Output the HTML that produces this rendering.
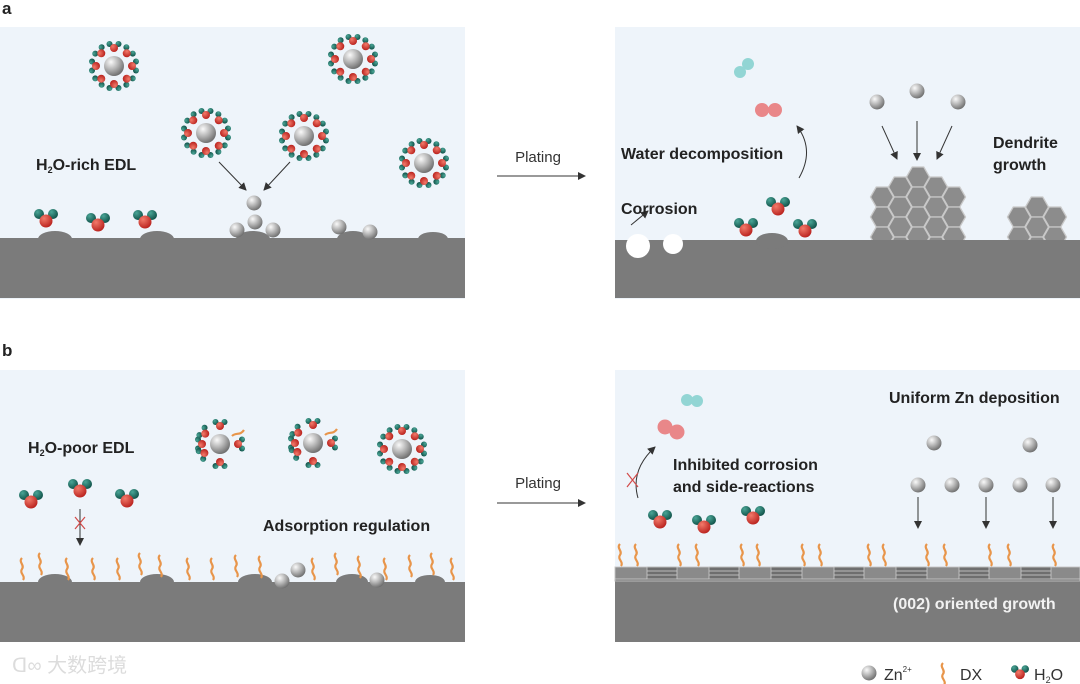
<!DOCTYPE html>
<html><head><meta charset="utf-8"><style>
html,body{margin:0;padding:0;background:#fff;}
svg{display:block;font-family:"Liberation Sans",Arial,sans-serif;}
</style></head><body>
<svg width="1080" height="684" viewBox="0 0 1080 684" xmlns="http://www.w3.org/2000/svg">
<defs>
<radialGradient id="gz" cx="0.35" cy="0.3" r="0.75"><stop offset="0" stop-color="#fafafa"/><stop offset="0.5" stop-color="#b4b4b4"/><stop offset="1" stop-color="#6a6a6a"/></radialGradient>
<radialGradient id="gr" cx="0.35" cy="0.3" r="0.75"><stop offset="0" stop-color="#f27a6a"/><stop offset="1" stop-color="#b8201c"/></radialGradient>
<radialGradient id="gt" cx="0.35" cy="0.3" r="0.75"><stop offset="0" stop-color="#4aa596"/><stop offset="1" stop-color="#0e4f46"/></radialGradient>
<g id="w"><circle cx="-7" cy="-4" r="5" fill="url(#gt)"/><circle cx="7" cy="-4" r="5" fill="url(#gt)"/><circle cx="0" cy="3" r="6.5" fill="url(#gr)"/></g>
<g id="ws"><circle cx="-4.5" cy="-3" r="3" fill="url(#gt)"/><circle cx="4.5" cy="-3" r="3" fill="url(#gt)"/><circle cx="0" cy="1" r="4" fill="url(#gr)"/></g>
<g id="sv">
<use href="#ws" transform="rotate(0) translate(0,-19)"/><use href="#ws" transform="rotate(45) translate(0,-19)"/>
<use href="#ws" transform="rotate(90) translate(0,-19)"/><use href="#ws" transform="rotate(135) translate(0,-19)"/>
<use href="#ws" transform="rotate(180) translate(0,-19)"/><use href="#ws" transform="rotate(225) translate(0,-19)"/>
<use href="#ws" transform="rotate(270) translate(0,-19)"/><use href="#ws" transform="rotate(315) translate(0,-19)"/>
<circle r="10" fill="url(#gz)"/></g>
<g id="sv2">
<use href="#ws" transform="rotate(0) translate(0,-19)"/><use href="#ws" transform="rotate(90) translate(0,-19)"/>
<use href="#ws" transform="rotate(180) translate(0,-19)"/><use href="#ws" transform="rotate(270) translate(0,-19)"/>
<use href="#ws" transform="rotate(-55) translate(0,-19)"/><use href="#ws" transform="rotate(-120) translate(0,-19)"/>
<path d="M12,-8 c4,-4 8,0 12,-6" stroke="#e8954a" stroke-width="2.2" fill="none"/>
<circle r="10" fill="url(#gz)"/></g>
<g id="zn"><circle r="7.5" fill="url(#gz)"/></g>
<path id="dx" d="M0,0 c-4,4 3,7 0,11 c-3,4 4,7 1,11" stroke="#e8954a" stroke-width="2.2" fill="none"/>
<polygon id="hx" points="-11.5,0 -5.75,-10 5.75,-10 11.5,0 5.75,10 -5.75,10" fill="#8c8c8c" stroke="#c8c8c8" stroke-width="1.3"/>
<marker id="ar" markerWidth="8" markerHeight="8" refX="7" refY="4" orient="auto" markerUnits="userSpaceOnUse"><path d="M0,0 L8,4 L0,8 z" fill="#333"/></marker>
</defs>

<text x="2" y="14" font-size="17" font-weight="bold" fill="#222">a</text>
<text x="2" y="356" font-size="17" font-weight="bold" fill="#222">b</text>

<!-- panel a left -->
<rect x="0" y="27" width="465" height="272" fill="#eef4fa"/>
<g fill="#7b7b7b">
<ellipse cx="55" cy="239" rx="17" ry="8"/><ellipse cx="157" cy="239" rx="17" ry="8"/><ellipse cx="253" cy="239" rx="17" ry="8"/><ellipse cx="353" cy="239" rx="16" ry="8"/><ellipse cx="433" cy="239" rx="15" ry="7"/>
<rect x="0" y="238" width="465" height="60"/></g>
<use href="#sv" x="114" y="66"/><use href="#sv" x="353" y="59"/><use href="#sv" x="206" y="133"/><use href="#sv" x="304" y="136"/><use href="#sv" x="424" y="163"/>
<use href="#w" x="46" y="218"/><use href="#w" x="98" y="222"/><use href="#w" x="145" y="219"/>
<use href="#zn" x="254" y="203"/><use href="#zn" x="255" y="222"/><use href="#zn" x="237" y="230"/><use href="#zn" x="273" y="230"/><use href="#zn" x="339" y="227"/><use href="#zn" x="370" y="232"/>
<line x1="219" y1="162" x2="246" y2="190" stroke="#333" stroke-width="1" marker-end="url(#ar)"/>
<line x1="290" y1="162" x2="264" y2="190" stroke="#333" stroke-width="1" marker-end="url(#ar)"/>
<text x="36" y="170" font-size="16" font-weight="bold" fill="#222">H<tspan font-size="9" dy="3">2</tspan><tspan dy="-3">O-rich EDL</tspan></text>

<!-- arrow a -->
<text x="538" y="162" font-size="15" fill="#333" text-anchor="middle">Plating</text>
<line x1="497" y1="176" x2="585" y2="176" stroke="#333" stroke-width="1" marker-end="url(#ar)"/>

<!-- panel a right -->
<rect x="615" y="27" width="465" height="272" fill="#eef4fa"/>
<rect x="615" y="240" width="465" height="58" fill="#7b7b7b"/>
<ellipse cx="772" cy="241" rx="16" ry="8" fill="#7b7b7b"/>
<circle cx="638" cy="246" r="12" fill="#fff"/><circle cx="673" cy="244" r="10" fill="#fff"/>
<line x1="631" y1="225" x2="648" y2="211" stroke="#333" stroke-width="1" marker-end="url(#ar)"/>
<text x="621" y="214" font-size="16" font-weight="bold" fill="#222">Corrosion</text>
<text x="621" y="159" font-size="16" font-weight="bold" fill="#222">Water decomposition</text>
<path d="M799,178 Q815,150 797,126" stroke="#333" stroke-width="1" fill="none" marker-end="url(#ar)"/>
<g opacity="0.7"><circle cx="762" cy="110" r="7" fill="#e85a5a"/><circle cx="775" cy="110" r="7" fill="#e85a5a"/>
<circle cx="740" cy="72" r="6" fill="#6cc9c4"/><circle cx="748" cy="64" r="6" fill="#6cc9c4"/></g>
<use href="#w" x="746" y="227"/><use href="#w" x="778" y="206"/><use href="#w" x="805" y="228"/>
<use href="#zn" x="877" y="102"/><use href="#zn" x="917" y="91"/><use href="#zn" x="958" y="102"/>
<line x1="882" y1="126" x2="897" y2="159" stroke="#333" stroke-width="1" marker-end="url(#ar)"/>
<line x1="917" y1="121" x2="917" y2="160" stroke="#333" stroke-width="1" marker-end="url(#ar)"/>
<line x1="952" y1="126" x2="937" y2="159" stroke="#333" stroke-width="1" marker-end="url(#ar)"/>
<svg x="860" y="160" width="115" height="80" overflow="hidden">
<g transform="translate(-860,-160)">
<use href="#hx" x="882" y="197"/><use href="#hx" x="882" y="217"/><use href="#hx" x="882" y="237"/>
<use href="#hx" x="900" y="187"/><use href="#hx" x="900" y="207"/><use href="#hx" x="900" y="227"/><use href="#hx" x="900" y="247"/>
<use href="#hx" x="918" y="177"/><use href="#hx" x="918" y="197"/><use href="#hx" x="918" y="217"/><use href="#hx" x="918" y="237"/>
<use href="#hx" x="936" y="187"/><use href="#hx" x="936" y="207"/><use href="#hx" x="936" y="227"/><use href="#hx" x="936" y="247"/>
<use href="#hx" x="954" y="197"/><use href="#hx" x="954" y="217"/><use href="#hx" x="954" y="237"/>
</g></svg>
<svg x="1000" y="190" width="75" height="50" overflow="hidden">
<g transform="translate(-1000,-190)">
<use href="#hx" x="1019" y="217"/><use href="#hx" x="1019" y="237"/>
<use href="#hx" x="1037" y="207"/><use href="#hx" x="1037" y="227"/><use href="#hx" x="1037" y="247"/>
<use href="#hx" x="1055" y="217"/><use href="#hx" x="1055" y="237"/>
</g></svg>
<text x="993" y="148" font-size="16" font-weight="bold" fill="#222">Dendrite</text>
<text x="993" y="170" font-size="16" font-weight="bold" fill="#222">growth</text>

<!-- panel b left -->
<rect x="0" y="370" width="465" height="272" fill="#eef4fa"/>
<g fill="#7b7b7b">
<ellipse cx="55" cy="582" rx="17" ry="8"/><ellipse cx="157" cy="582" rx="17" ry="8"/><ellipse cx="255" cy="582" rx="17" ry="8"/><ellipse cx="352" cy="582" rx="16" ry="8"/><ellipse cx="430" cy="582" rx="15" ry="7"/>
<rect x="0" y="582" width="465" height="60"/></g>
<g>
<use href="#dx" x="22" y="558"/><use href="#dx" x="40" y="553"/><use href="#dx" x="67" y="558"/><use href="#dx" x="93" y="558"/><use href="#dx" x="118" y="558"/><use href="#dx" x="140" y="553"/><use href="#dx" x="160" y="555"/><use href="#dx" x="188" y="558"/><use href="#dx" x="212" y="558"/><use href="#dx" x="236" y="555"/><use href="#dx" x="260" y="556"/><use href="#dx" x="313" y="558"/><use href="#dx" x="336" y="553"/><use href="#dx" x="359" y="556"/><use href="#dx" x="385" y="558"/><use href="#dx" x="410" y="555"/><use href="#dx" x="432" y="553"/><use href="#dx" x="452" y="558"/>
</g>
<use href="#zn" x="298" y="570"/><use href="#zn" x="282" y="581"/><use href="#zn" x="377" y="580"/>
<use href="#sv2" x="220" y="444"/><use href="#sv2" x="313" y="443"/><use href="#sv" x="402" y="449"/>
<use href="#w" x="31" y="499"/><use href="#w" x="80" y="488"/><use href="#w" x="127" y="498"/>
<line x1="80" y1="509" x2="80" y2="545" stroke="#333" stroke-width="1" marker-end="url(#ar)"/>
<path d="M75,517 L85,529 M85,517 L75,529" stroke="#d24a48" stroke-width="1.2"/>
<text x="28" y="453" font-size="16" font-weight="bold" fill="#222">H<tspan font-size="9" dy="3">2</tspan><tspan dy="-3">O-poor EDL</tspan></text>
<text x="263" y="531" font-size="16" font-weight="bold" fill="#222">Adsorption regulation</text>

<!-- arrow b -->
<text x="538" y="488" font-size="15" fill="#333" text-anchor="middle">Plating</text>
<line x1="497" y1="503" x2="585" y2="503" stroke="#333" stroke-width="1" marker-end="url(#ar)"/>

<!-- panel b right -->
<rect x="615" y="370" width="465" height="272" fill="#eef4fa"/>
<rect x="615" y="581" width="465" height="61" fill="#7b7b7b"/>
<g stroke="#bbb" stroke-width="1">
<rect x="615" y="567" width="465" height="14" fill="#6e6e6e"/>
<line x1="615" y1="571" x2="1080" y2="571"/><line x1="615" y1="575" x2="1080" y2="575"/><line x1="615" y1="579" x2="1080" y2="579"/>
</g>
<g fill="#8a8a8a" stroke="#ccc" stroke-width="0.8">
<rect x="615" y="567" width="32" height="12"/><rect x="677" y="567" width="32" height="12"/><rect x="739" y="567" width="32" height="12"/><rect x="802" y="567" width="32" height="12"/><rect x="864" y="567" width="32" height="12"/><rect x="927" y="567" width="32" height="12"/><rect x="989" y="567" width="32" height="12"/><rect x="1051" y="567" width="29" height="12"/>
</g>
<g>
<use href="#dx" x="620" y="544"/><use href="#dx" x="636" y="544"/><use href="#dx" x="679" y="544"/><use href="#dx" x="697" y="544"/><use href="#dx" x="742" y="544"/><use href="#dx" x="758" y="544"/><use href="#dx" x="803" y="544"/><use href="#dx" x="820" y="544"/><use href="#dx" x="869" y="544"/><use href="#dx" x="884" y="544"/><use href="#dx" x="927" y="544"/><use href="#dx" x="945" y="544"/><use href="#dx" x="990" y="544"/><use href="#dx" x="1009" y="544"/><use href="#dx" x="1054" y="544"/>
</g>
<use href="#w" x="660" y="519"/><use href="#w" x="704" y="524"/><use href="#w" x="753" y="515"/>
<g opacity="0.7"><circle cx="665" cy="427" r="7.5" fill="#e85a5a"/><circle cx="677" cy="432" r="7.5" fill="#e85a5a"/>
<circle cx="687" cy="400" r="6" fill="#6cc9c4"/><circle cx="697" cy="401" r="6" fill="#6cc9c4"/></g>
<path d="M638,498 Q630,470 655,447" stroke="#333" stroke-width="1" fill="none" marker-end="url(#ar)"/>
<path d="M627,473 L638,487 M638,473 L627,487" stroke="#d24a48" stroke-width="1.2"/>
<text x="673" y="470" font-size="16" font-weight="bold" fill="#222">Inhibited corrosion</text>
<text x="673" y="492" font-size="16" font-weight="bold" fill="#222">and side-reactions</text>
<text x="889" y="403" font-size="16" font-weight="bold" fill="#222">Uniform Zn deposition</text>
<use href="#zn" x="934" y="443"/><use href="#zn" x="1030" y="445"/>
<use href="#zn" x="918" y="485"/><use href="#zn" x="952" y="485"/><use href="#zn" x="986" y="485"/><use href="#zn" x="1020" y="485"/><use href="#zn" x="1053" y="485"/>
<line x1="918" y1="497" x2="918" y2="528" stroke="#333" stroke-width="1" marker-end="url(#ar)"/>
<line x1="986" y1="497" x2="986" y2="528" stroke="#333" stroke-width="1" marker-end="url(#ar)"/>
<line x1="1053" y1="497" x2="1053" y2="528" stroke="#333" stroke-width="1" marker-end="url(#ar)"/>
<text x="893" y="609" font-size="16" font-weight="bold" fill="#f2f2f2">(002) oriented growth</text>

<!-- legend -->
<use href="#zn" x="869" y="673"/>
<text x="884" y="680" font-size="16" fill="#333">Zn<tspan font-size="8" dy="-8">2+</tspan></text>
<use href="#dx" x="943" y="663"/>
<text x="960" y="680" font-size="16" fill="#333">DX</text>
<g transform="translate(1020,672) scale(0.75)"><use href="#w"/></g>
<text x="1034" y="680" font-size="16" fill="#333">H<tspan font-size="9" dy="3">2</tspan><tspan dy="-3">O</tspan></text>

<!-- watermark -->
<text x="12" y="672" font-size="20" fill="#dcdcdc" font-family="Liberation Sans, Noto Sans CJK SC, sans-serif">ᗡ∞ 大数跨境</text>
</svg>
</body></html>
